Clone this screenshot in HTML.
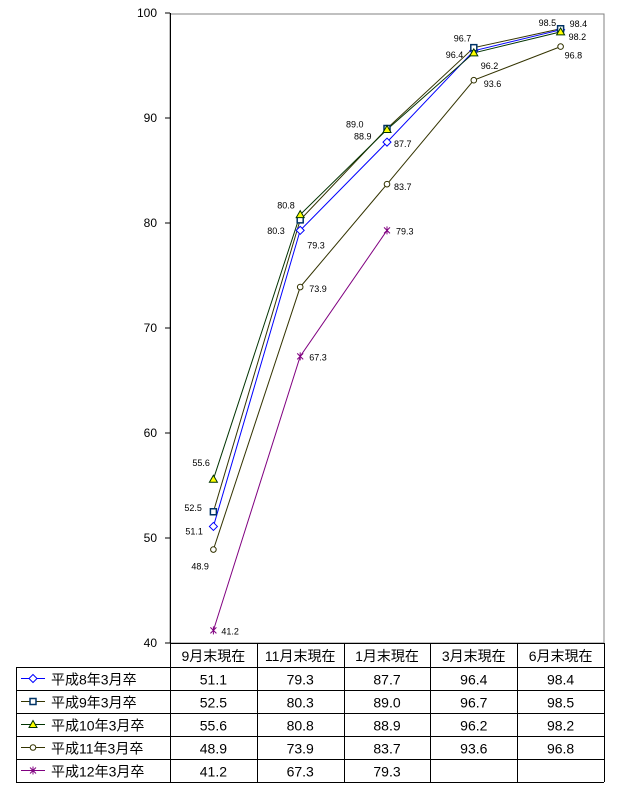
<!DOCTYPE html>
<html><head><meta charset="utf-8"><style>
body{margin:0;background:#fff;}
svg{display:block;font-family:"Liberation Sans","Noto Sans CJK JP",sans-serif;}
</style></head><body>
<svg id="chart" width="617" height="798" viewBox="0 0 617 798" xmlns="http://www.w3.org/2000/svg"></svg>
<script>
const categories=["9月末現在","11月末現在","1月末現在","3月末現在","6月末現在"];
const seriesNames=["平成8年3月卒","平成9年3月卒","平成10年3月卒","平成11年3月卒","平成12年3月卒"];
const s1=[51.1,79.3,87.7,96.4,98.4];
const s2=[52.5,80.3,89.0,96.7,98.5];
const s3=[55.6,80.8,88.9,96.2,98.2];
const s4=[48.9,73.9,83.7,93.6,96.8];
const s5=[41.2,67.3,79.3,null,null];
const yTicks=[40,50,60,70,80,90,100];
const series=[s1,s2,s3,s4,s5];
const colors=["#0000ff","#333300","#003300","#333300","#800080"];
const markers=["diamond","square","triangle","circle","star"];
// label offsets (dx,dy) per series/point - styling only
const lblOff=[
 [[-28,8],[7,18],[7,5],[-28,7],[9,-3]],
 [[-29,-1],[-33,14],[-41,-1],[-20,-6],[-22,-3]],
 [[-21,-13],[-23,-6],[-33,10],[7,16],[8,8]],
 [[-22,20],[9,5],[7,6],[10,7],[4,12]],
 [[8,4],[9,4],[9,4],[0,0],[0,0]]];
const X0=170,X1=604,Y0=643,Y1=13;
const colW=(X1-X0)/categories.length;
function xs(i){return X0+colW*(i+0.5);}
function ys(v){return Y0-(v-40)*(Y0-Y1)/60;}
const svg=document.getElementById('chart');
const NS="http://www.w3.org/2000/svg";
function mk(t,a,p){const e=document.createElementNS(NS,t);for(const k in a)e.setAttribute(k,a[k]);(p||svg).appendChild(e);return e;}
let e=mk('rect',{x:X0,y:Y1+1,width:X1-X0,height:Y0-Y1-1,fill:'none',stroke:'#808080','stroke-width':1});


e=mk('line',{x1:X0+0.5,y1:Y1,x2:X0+0.5,y2:Y0,stroke:'#000'});


yTicks.forEach(t=>{
 const y=ys(t);
 let l=mk('line',{x1:X0-5,y1:y,x2:X0,y2:y,stroke:'#000'});
 
 
 let tx=mk('text',{x:157,y:y+4,'text-anchor':'end','font-size':12});
 tx.textContent=t;
 
 
});
function marker(m,x,y,c){
 let el;
 if(m==='diamond')el=mk('polygon',{points:`${x},${y-4} ${x+4},${y} ${x},${y+4} ${x-4},${y}`,fill:'#fff',stroke:'#0000ff'});
 else if(m==='square')el=mk('rect',{x:x-3,y:y-3,width:6,height:6,fill:'#fff',stroke:'#003366','stroke-width':1.5});
 else if(m==='triangle')el=mk('polygon',{points:`${x},${y-4} ${x+4},${y+3} ${x-4},${y+3}`,fill:'#ffff00',stroke:'#003300'});
 else if(m==='circle')el=mk('circle',{cx:x,cy:y,r:2.8,fill:'#fff',stroke:'#333300'});
 else{el=mk('g',{stroke:'#800080','stroke-width':1});
  mk('line',{x1:x-3,y1:y-3,x2:x+3,y2:y+3},el);mk('line',{x1:x+3,y1:y-3,x2:x-3,y2:y+3},el);mk('line',{x1:x,y1:y-4,x2:x,y2:y+4},el);}
 
 
}
series.forEach((s,si)=>{
 let pts=[];
 s.forEach((v,i)=>{if(v!=null)pts.push(xs(i)+','+ys(v));});
 let pl=mk('polyline',{points:pts.join(' '),fill:'none',stroke:colors[si],'stroke-width':1});
 
 
});
series.forEach((s,si)=>{
 s.forEach((v,i)=>{
  if(v==null)return;
  marker(markers[si],xs(i),ys(v));
  let o=lblOff[si][i];
  let t=mk('text',{x:xs(i)+o[0],y:ys(v)+o[1],'font-size':9});
  t.textContent=v.toFixed(1);
  
  
 });
});
const T0=643,HH=24,RH=23,TL=16;
let tb=mk('g',{});


mk('line',{x1:X0,y1:T0+.5,x2:X1,y2:T0+.5,stroke:'#000'},tb);
for(let r=0;r<=5;r++){const y=T0+HH+r*RH+.5;mk('line',{x1:TL,y1:y,x2:X1,y2:y,stroke:'#000'},tb);}
mk('line',{x1:TL+.5,y1:T0+HH,x2:TL+.5,y2:T0+HH+5*RH,stroke:'#000'},tb);
for(let c=0;c<=5;c++){const x=Math.round(X0+c*colW)+.5;mk('line',{x1:x,y1:T0,x2:x,y2:T0+HH+5*RH,stroke:'#000'},tb);}
categories.forEach((c,i)=>{
 let t=mk('text',{x:xs(i),y:T0+18,'text-anchor':'middle','font-size':14},tb);
 t.textContent=c;
 
 
});
series.forEach((s,si)=>{
 const y=T0+HH+si*RH+RH/2;
 let g=mk('g',{},tb);
 
 
 mk('line',{x1:21,y1:y,x2:45,y2:y,stroke:colors[si]},g);
 marker(markers[si],33,y);
 let t=mk('text',{x:51,y:y+6,'font-size':14},g);
 t.textContent=seriesNames[si];
 s.forEach((v,i)=>{
  if(v==null)return;
  let tv=mk('text',{x:xs(i),y:y+6,'text-anchor':'middle','font-size':14},tb);
  tv.textContent=v.toFixed(1);
  
  
 });
});
</script>
</body></html>
